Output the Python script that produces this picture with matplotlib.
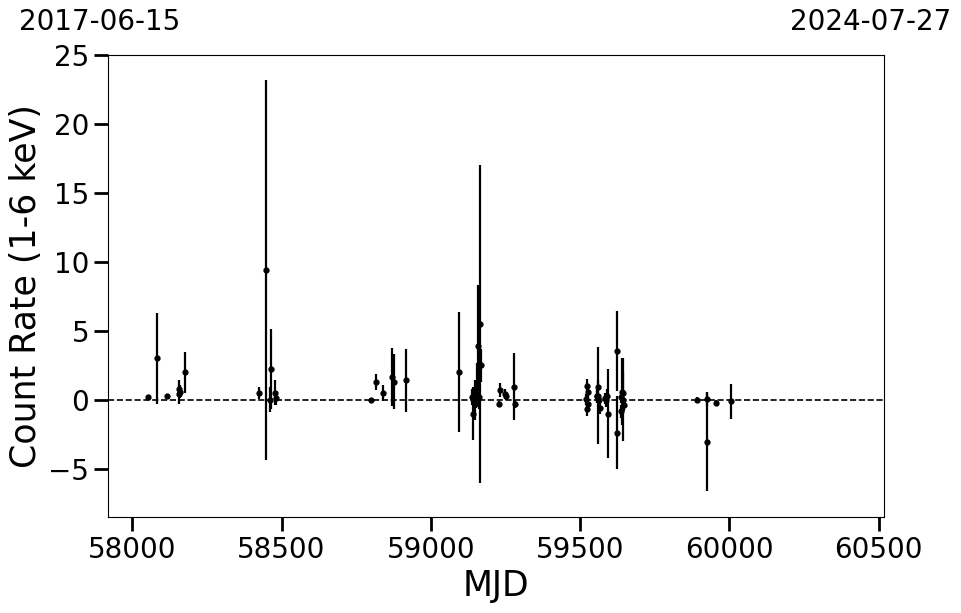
import matplotlib
matplotlib.use("Agg")
import matplotlib.pyplot as plt
import numpy as np

# Data
mjd = [58054, 58083, 58115, 58155, 58158, 58160, 58178,
       58425, 58448, 58461, 58466, 58478, 58482,
       58799, 58815, 58839, 58869, 58877, 58917,
       59094, 59139, 59142, 59148, 59152, 59155, 59158, 59163, 59166, 59167,
       59228, 59233, 59249, 59251, 59279, 59282,
       59520, 59522, 59524, 59526, 59528,
       59555, 59558, 59560, 59561, 59563, 59565,
       59585, 59588, 59590, 59592,
       59624, 59625, 59636, 59638, 59640, 59642, 59645, 59647,
       59893, 59924, 59926, 59954, 60005]
rate = [0.2, 3.0, 0.3, 0.8, 0.4, 0.6, 2.0,
        0.5, 9.4, 0.0, 2.2, 0.5, 0.15,
        0.0, 1.3, 0.5, 1.65, 1.3, 1.4,
        2.0, 0.2, -1.0, 0.0, 0.4, 1.2, 3.9, 0.2, 5.5, 2.5,
        -0.3, 0.7, 0.4, 0.25, 0.95, -0.3,
        0.05, -0.65, 1.0, 0.6, -0.3,
        0.25, 0.3, 0.3, 0.9, -0.05, -0.6,
        0.1, -0.05, 0.3, -1.0,
        3.55, -2.4, 0.2, -0.85, 0.6, 0.0, 0.5, -0.35,
        0.0, 0.05, -3.05, -0.2, -0.12]
err = [0.15, 3.3, 0.15, 0.6, 0.7, 0.5, 1.5,
       0.45, 13.8, 0.9, 2.9, 0.9, 0.5,
       0.1, 0.6, 0.6, 2.1, 2.0, 2.3,
       4.35, 0.6, 1.95, 1.45, 1.0, 1.5, 4.4, 0.9, 11.5, 1.2,
       0.2, 0.5, 0.35, 0.3, 2.45, 0.3,
       0.4, 0.5, 0.5, 0.5, 0.4,
       0.4, 0.5, 3.5, 0.5, 0.4, 0.4,
       0.4, 0.5, 0.5, 3.2,
       2.9, 2.65, 0.4, 0.5, 2.4, 3.0, 1.5, 0.5,
       0.2, 0.5, 3.6, 0.2, 1.27]

x_ticks = [58000, 58500, 59000, 59500, 60000, 60500]
y_ticks = [-5, 0, 5, 10, 15, 20, 25]
start_label = "2017-06-15"
end_label = "2024-07-27"

fig = plt.figure(figsize=(9.62, 6.13), dpi=100)
ax = fig.add_axes([0.1123, 0.1566, 0.8067, 0.7537])

ax.errorbar(mjd, rate, yerr=err, fmt='o', color='black', ecolor='black',
            markersize=3.5, elinewidth=1.6, capsize=0)
ax.axhline(0, color='black', linestyle='--', linewidth=1.2)

ax.set_xlim(57919, 60518)
ax.set_ylim(-8.5, 25)
ax.set_xticks(x_ticks)
ax.set_yticks(y_ticks)
ax.tick_params(axis='both', which='major', labelsize=20, length=10, width=2,
               direction='out')
ax.set_xlabel("MJD", fontsize=25)
ax.set_ylabel("Count Rate (1-6 keV)", fontsize=25)
for s in ax.spines.values():
    s.set_linewidth(0.8)

fig.text(100 / 962, 1 - 22 / 613, start_label, fontsize=20, ha='center', va='center')
fig.text(871 / 962, 1 - 22 / 613, end_label, fontsize=20, ha='center', va='center')

fig.savefig("out.png", dpi=100)
